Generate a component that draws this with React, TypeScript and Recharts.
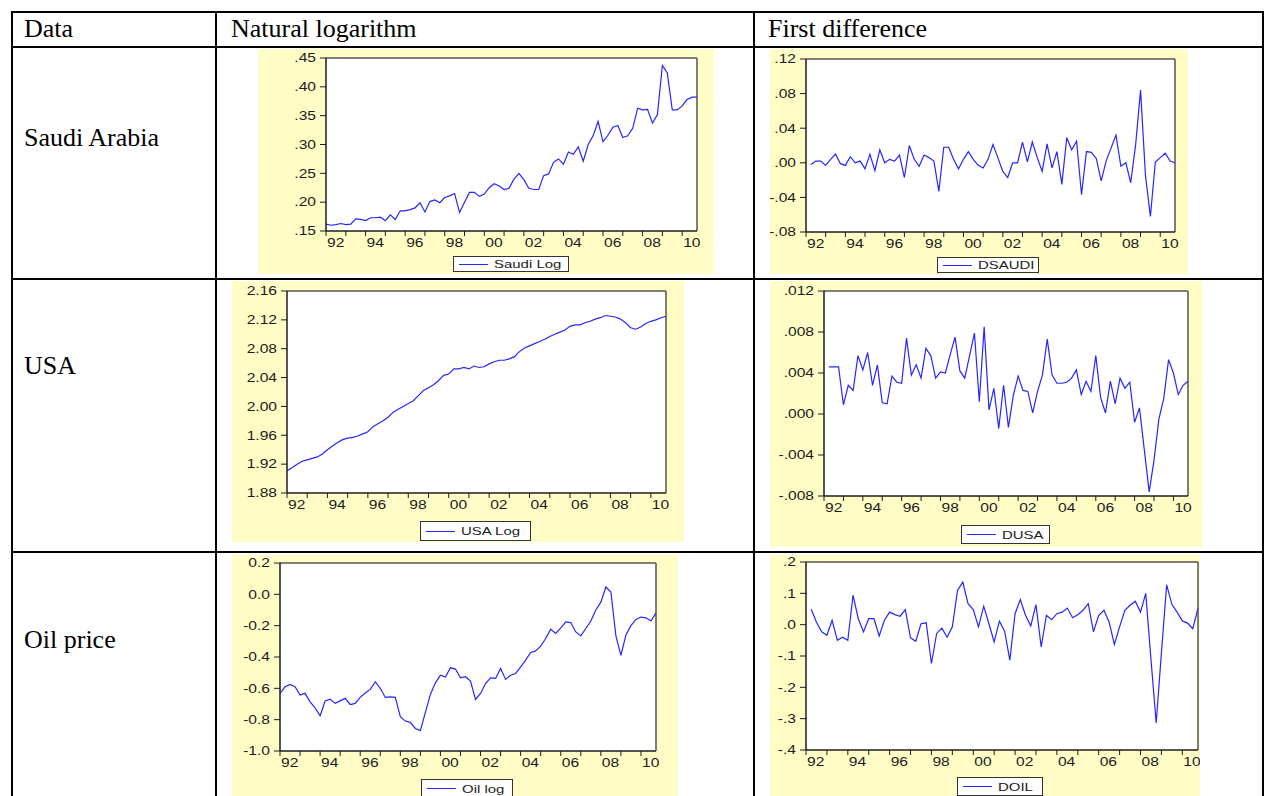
import { LineChart, Line, XAxis, YAxis, CartesianGrid, ReferenceLine } from "recharts";

// quarterly, 1992Q1 .. 2010Q4 -> index 0..75
const years = ["92", "93", "94", "95", "96", "97", "98", "99", "00", "01", "02", "03", "04", "05", "06", "07", "08", "09", "10"];
const yearTicks = years.map((_, i) => i * 4);

const saudiLog = [
  0.162, 0.160, 0.161, 0.163, 0.161, 0.162, 0.171, 0.170, 0.168, 0.173, 0.173, 0.174,
  0.168, 0.178, 0.170, 0.185, 0.185, 0.187, 0.190, 0.199, 0.183, 0.201, 0.204, 0.199,
  0.208, 0.211, 0.215, 0.182, 0.200, 0.217, 0.217, 0.210, 0.214, 0.225, 0.232, 0.228,
  0.222, 0.224, 0.240, 0.250, 0.239, 0.224, 0.222, 0.222, 0.246, 0.249, 0.269, 0.275,
  0.266, 0.287, 0.283, 0.296, 0.271, 0.300, 0.315, 0.340, 0.305, 0.316, 0.330, 0.333,
  0.312, 0.315, 0.328, 0.363, 0.360, 0.361, 0.337, 0.352, 0.437, 0.424, 0.360, 0.360,
  0.367, 0.378, 0.382, 0.382,
];

// first differences start at 1992Q2
const dSaudi = [
  -0.002, 0.002, 0.002, -0.003, 0.004, 0.010, -0.001, -0.003, 0.007, 0.000, 0.002,
  -0.007, 0.010, -0.009, 0.015, 0.000, 0.004, 0.002, 0.009, -0.017, 0.020, 0.004, -0.004,
  0.009, 0.006, 0.002, -0.033, 0.018, 0.018, 0.004, -0.007, 0.004, 0.013, 0.004, -0.003,
  -0.006, 0.004, 0.021, 0.006, -0.010, -0.017, 0.000, 0.000, 0.024, 0.001, 0.024, 0.006,
  -0.010, 0.022, -0.006, 0.013, -0.025, 0.029, 0.015, 0.025, -0.037, 0.013, 0.012, 0.005,
  -0.021, 0.002, 0.017, 0.032, -0.004, 0.000, -0.023, 0.021, 0.084, -0.015, -0.062, 0.001,
  0.006, 0.011, 0.002, 0.000,
];

const usaLog = [
  1.911, 1.915, 1.920, 1.924, 1.926, 1.928, 1.930, 1.934, 1.940, 1.945, 1.950, 1.954,
  1.956, 1.957, 1.959, 1.962, 1.965, 1.972, 1.976, 1.980, 1.985, 1.992, 1.996, 2.000,
  2.004, 2.008, 2.015, 2.022, 2.026, 2.030, 2.036, 2.043, 2.045, 2.052, 2.052, 2.054,
  2.052, 2.056, 2.054, 2.055, 2.059, 2.062, 2.064, 2.064, 2.066, 2.069, 2.076, 2.081,
  2.084, 2.087, 2.090, 2.093, 2.097, 2.100, 2.103, 2.106, 2.111, 2.113, 2.113, 2.116,
  2.118, 2.121, 2.123, 2.126, 2.125, 2.124, 2.121, 2.116, 2.109, 2.107, 2.110, 2.115,
  2.118, 2.120, 2.123, 2.125,
];

const dUsa = [
  0.0046, 0.0046, 0.0046, 0.0009, 0.0028, 0.0023, 0.0057, 0.0043, 0.0060, 0.0028, 0.0048,
  0.0011, 0.0010, 0.0037, 0.0031, 0.0030, 0.0074, 0.0038, 0.0048, 0.0035, 0.0064, 0.0057, 0.0035,
  0.0041, 0.0040, 0.0058, 0.0075, 0.0042, 0.0035, 0.0057, 0.0079, 0.0012, 0.0085, 0.0004, 0.0025,
  -0.0014, 0.0028, -0.0013, 0.0018, 0.0037, 0.0023, 0.0022, 0.0001, 0.0022, 0.0038, 0.0073, 0.0038,
  0.0030, 0.0030, 0.0031, 0.0035, 0.0043, 0.0019, 0.0032, 0.0022, 0.0057, 0.0016, 0.0001, 0.0032,
  0.0010, 0.0035, 0.0025, 0.0031, -0.0008, 0.0006, -0.0035, -0.0076, -0.0045, -0.0005, 0.0015, 0.0053,
  0.0040, 0.0019, 0.0028, 0.0032,
];

const oilLog = [
  -0.633, -0.590, -0.575, -0.590, -0.643, -0.632, -0.686, -0.724, -0.775, -0.681, -0.670, -0.696,
  -0.680, -0.664, -0.703, -0.696, -0.658, -0.630, -0.607, -0.558, -0.600, -0.658, -0.655, -0.658,
  -0.781, -0.809, -0.817, -0.856, -0.870, -0.754, -0.639, -0.565, -0.516, -0.528, -0.469, -0.477,
  -0.533, -0.526, -0.554, -0.671, -0.633, -0.569, -0.533, -0.537, -0.473, -0.543, -0.516, -0.505,
  -0.463, -0.420, -0.371, -0.361, -0.331, -0.282, -0.223, -0.250, -0.214, -0.176, -0.180, -0.240,
  -0.265, -0.218, -0.170, -0.100, -0.050, 0.047, 0.015, -0.265, -0.390, -0.260, -0.200, -0.160,
  -0.145, -0.150, -0.170, -0.118,
];

const dOil = [
  0.049, 0.008, -0.023, -0.034, 0.014, -0.050, -0.040, -0.050, 0.094, 0.019, -0.023,
  0.019, 0.019, -0.036, 0.014, 0.040, 0.032, 0.027, 0.048, -0.042, -0.053, 0.003, 0.006,
  -0.124, -0.028, -0.011, -0.040, -0.007, 0.110, 0.136, 0.067, 0.048, -0.007, 0.059, 0.003,
  -0.055, 0.011, -0.021, -0.113, 0.035, 0.080, 0.030, -0.004, 0.064, -0.071, 0.030, 0.016,
  0.035, 0.040, 0.053, 0.022, 0.032, 0.046, 0.067, -0.023, 0.030, 0.046, 0.008, -0.063,
  -0.007, 0.046, 0.062, 0.075, 0.040, 0.100, -0.110, -0.314, -0.090, 0.127, 0.065, 0.040,
  0.012, 0.005, -0.013, 0.052,
];

const saudiTicks = [0.15, 0.2, 0.25, 0.3, 0.35, 0.4, 0.45];
const saudiLabels = [".15", ".20", ".25", ".30", ".35", ".40", ".45"];
const dSaudiTicks = [-0.08, -0.04, 0, 0.04, 0.08, 0.12];
const dSaudiLabels = ["-.08", "-.04", ".00", ".04", ".08", ".12"];
const usaTicks = [1.88, 1.92, 1.96, 2.0, 2.04, 2.08, 2.12, 2.16];
const usaLabels = ["1.88", "1.92", "1.96", "2.00", "2.04", "2.08", "2.12", "2.16"];
const dUsaTicks = [-0.008, -0.004, 0, 0.004, 0.008, 0.012];
const dUsaLabels = ["-.008", "-.004", ".000", ".004", ".008", ".012"];
const oilTicks = [-1.0, -0.8, -0.6, -0.4, -0.2, 0.0, 0.2];
const oilLabels = ["-1.0", "-0.8", "-0.6", "-0.4", "-0.2", "0.0", "0.2"];
const dOilTicks = [-0.4, -0.3, -0.2, -0.1, 0, 0.1, 0.2];
const dOilLabels = ["-.4", "-.3", "-.2", "-.1", ".0", ".1", ".2"];

const BLUE = "#2626ff";
const BG = "#fffcc6";
const INK = "#1c1c1c";
const FRAME = "#555";
const SANS = "'Liberation Sans', Arial, sans-serif";
const SERIF = "'Liberation Serif', 'Times New Roman', serif";
const STRETCH = 1.3; // the eviews graphs were pasted stretched sideways

type Rect = { left: number; top: number; right: number; bottom: number };

interface PanelProps {
  name: string;
  values: number[];
  start: number;
  ticks: number[];
  tickLabels: string[];
  box: Rect;
  plot: Rect;
  legend: Rect;
}

const renderYear = (p: any) => {
  const i = yearTicks.indexOf(p.payload.value);
  if (i < 0 || i % 2 !== 0) return <g />;
  return (
    <g transform={`translate(${p.x + 1},${p.y}) scale(${STRETCH},1)`}>
      <text x={0} y={0} dy="0.7em" textAnchor="start" fontSize={12} fontFamily={SANS} fill={INK}>
        {years[i]}
      </text>
    </g>
  );
};

const renderValue = (p: any, ticks: number[], labels: string[]) => {
  const i = ticks.findIndex((t) => Math.abs(t - p.payload.value) < 1e-9);
  return (
    <g transform={`translate(${p.x},${p.y}) scale(${STRETCH},1)`}>
      <text x={0} y={0} dy="0.36em" textAnchor="end" fontSize={12} fontFamily={SANS} fill={INK}>
        {labels[i] ?? ""}
      </text>
    </g>
  );
};

const Panel = ({ name, values, start, ticks, tickLabels, box, plot, legend }: PanelProps) => {
  const data = values.map((v, i) => ({ q: start + i, v }));
  const w = box.right - box.left;
  const h = box.bottom - box.top;
  const lo = ticks[0];
  const hi = ticks[ticks.length - 1];
  return (
    <div style={{ position: "absolute", left: box.left, top: box.top, width: w, height: h, background: BG }}>
      <LineChart
        width={w}
        height={h}
        data={data}
        margin={{ top: plot.top - box.top, right: box.right - plot.right, bottom: 0, left: 0 }}
      >
        <CartesianGrid horizontal={false} vertical={false} fill="#fff" />
        <XAxis
          dataKey="q"
          type="number"
          domain={[0, 75]}
          ticks={yearTicks}
          interval={0}
          height={box.bottom - plot.bottom}
          tickSize={5}
          tickMargin={3}
          stroke={INK}
          axisLine={{ stroke: INK, strokeWidth: 1.5 }}
          tick={renderYear}
        />
        <YAxis
          type="number"
          domain={[lo, hi]}
          ticks={ticks}
          interval={0}
          width={plot.left - box.left}
          tickSize={6}
          tickMargin={4}
          stroke={INK}
          axisLine={{ stroke: INK, strokeWidth: 1.5 }}
          tick={(p: any) => renderValue(p, ticks, tickLabels)}
        />
        <ReferenceLine y={hi} stroke={FRAME} strokeWidth={1.5} />
        <ReferenceLine x={75} stroke={FRAME} strokeWidth={1.5} />
        <Line
          type="linear"
          dataKey="v"
          stroke={BLUE}
          strokeWidth={1.2}
          dot={false}
          isAnimationActive={false}
        />
      </LineChart>
      <div
        style={{
          position: "absolute",
          left: legend.left - box.left,
          top: legend.top - box.top,
          width: legend.right - legend.left,
          height: legend.bottom - legend.top,
          boxSizing: "border-box",
          border: "1.5px solid #333",
          background: "#fff",
          display: "flex",
          alignItems: "center",
        }}
      >
        <div style={{ marginLeft: 5, width: 29, height: 0, borderTop: `1.2px solid ${BLUE}` }} />
        <span
          style={{
            display: "inline-block",
            marginLeft: 6,
            fontFamily: SANS,
            fontSize: 11.5,
            color: INK,
            whiteSpace: "nowrap",
            transform: `scaleX(${STRETCH})`,
            transformOrigin: "left center",
          }}
        >
          {name}
        </span>
      </div>
    </div>
  );
};

const hLines = [11, 46, 278, 551];
const vLines = [11, 215, 753, 1262];

export default function App() {
  return (
    <div style={{ position: "fixed", left: 0, top: 0, width: 1273, height: 796, overflow: "hidden", background: "#fff" }}>
      <svg width={1273} height={796} style={{ position: "absolute", left: 0, top: 0 }}>
        {hLines.map((y) => (
          <rect key={`h${y}`} x={vLines[0]} y={y} width={vLines[3] - vLines[0] + 2} height={2} fill="#000" />
        ))}
        {vLines.map((x) => (
          <rect key={`v${x}`} x={x} y={hLines[0]} width={2} height={796 - hLines[0]} fill="#000" />
        ))}
        <g fontFamily={SERIF} fontSize={26} fill="#000">
          <text x={24} y={37}>Data</text>
          <text x={231} y={37}>Natural logarithm</text>
          <text x={768} y={37}>First difference</text>
          <text x={24} y={146}>Saudi Arabia</text>
          <text x={24} y={374}>USA</text>
          <text x={24} y={648}>Oil price</text>
        </g>
      </svg>
      <Panel
        name="Saudi Log"
        values={saudiLog}
        start={0}
        ticks={saudiTicks}
        tickLabels={saudiLabels}
        box={{ left: 258, top: 49, right: 714, bottom: 274 }}
        plot={{ left: 326, top: 58, right: 697, bottom: 231 }}
        legend={{ left: 453, top: 256, right: 569, bottom: 272 }}
      />
      <Panel
        name="DSAUDI"
        values={dSaudi}
        start={1}
        ticks={dSaudiTicks}
        tickLabels={dSaudiLabels}
        box={{ left: 770, top: 49, right: 1188, bottom: 274 }}
        plot={{ left: 806, top: 59, right: 1175, bottom: 232 }}
        legend={{ left: 937, top: 257, right: 1039, bottom: 273 }}
      />
      <Panel
        name="USA Log"
        values={usaLog}
        start={0}
        ticks={usaTicks}
        tickLabels={usaLabels}
        box={{ left: 232, top: 281, right: 684, bottom: 542 }}
        plot={{ left: 287, top: 291, right: 666, bottom: 493 }}
        legend={{ left: 420, top: 521, right: 531, bottom: 541 }}
      />
      <Panel
        name="DUSA"
        values={dUsa}
        start={1}
        ticks={dUsaTicks}
        tickLabels={dUsaLabels}
        box={{ left: 770, top: 281, right: 1202, bottom: 547 }}
        plot={{ left: 824, top: 291, right: 1188, bottom: 496 }}
        legend={{ left: 961, top: 525, right: 1050, bottom: 544 }}
      />
      <Panel
        name="Oil log"
        values={oilLog}
        start={0}
        ticks={oilTicks}
        tickLabels={oilLabels}
        box={{ left: 232, top: 555, right: 678, bottom: 796 }}
        plot={{ left: 280, top: 563, right: 656, bottom: 751 }}
        legend={{ left: 421, top: 779, right: 513, bottom: 798 }}
      />
      <Panel
        name="DOIL"
        values={dOil}
        start={1}
        ticks={dOilTicks}
        tickLabels={dOilLabels}
        box={{ left: 770, top: 555, right: 1200, bottom: 796 }}
        plot={{ left: 806, top: 562, right: 1198, bottom: 750 }}
        legend={{ left: 957, top: 777, right: 1043, bottom: 796 }}
      />
    </div>
  );
}
